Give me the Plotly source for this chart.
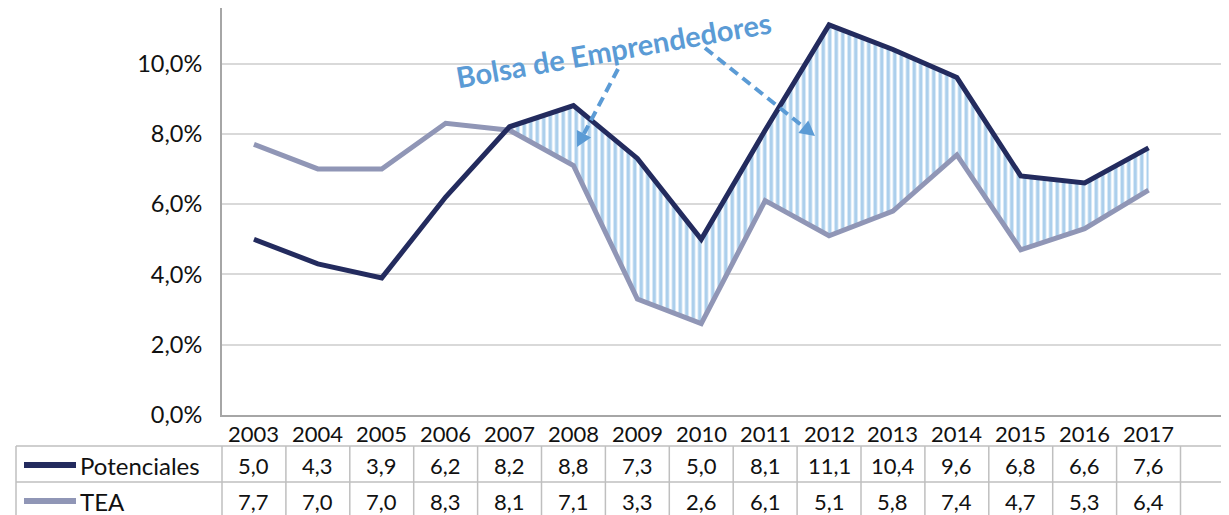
import math
import plotly.graph_objects as go

years = ["2003", "2004", "2005", "2006", "2007", "2008", "2009", "2010",
         "2011", "2012", "2013", "2014", "2015", "2016", "2017"]
potenciales = [5.0, 4.3, 3.9, 6.2, 8.2, 8.8, 7.3, 5.0, 8.1, 11.1, 10.4, 9.6, 6.8, 6.6, 7.6]
tea = [7.7, 7.0, 7.0, 8.3, 8.1, 7.1, 3.3, 2.6, 6.1, 5.1, 5.8, 7.4, 4.7, 5.3, 6.4]
series_names = ["Potenciales", "TEA"]
annotation_text = "Bolsa de Emprendedores"
y_ticks = [0, 2, 4, 6, 8, 10]
gap_start = 4  # fill from 2007 on

# page body has an 8px margin: work in screen pixels and shift by OFF
OFF = 8
W, H = 1229 - OFF, 515 - OFF
AX_X, AX_Y = 222, 415          # screen px of y-axis line and x-axis line
ML = AX_X - OFF
PH = AX_Y - OFF
PW = W - ML
MB = H - PH
COLW = 63.9
PX_PER_UNIT = 35.15
XMAX = PW / COLW - 0.5
YMAX = PH / PX_PER_UNIT

C_POT = "#232B5E"
C_TEA = "#9096B6"
C_BLUE = "#5B9BD5"
C_HATCH = "#5A9FDA"
C_GRID = "#D9D9D9"
C_AX = "#A6A6A6"
C_TXT = "#111111"
FONT = "Lato"
FS = 22

xs = list(range(len(years)))


def px(xs_):
    return (xs_ - OFF - ML) / PW


def py(ys_):
    return (PH - (ys_ - OFF)) / PH


def fmt(v):
    return f"{v:.1f}".replace(".", ",")


fig = go.Figure()

# hatched gap between the lines
fig.add_trace(go.Scatter(x=xs[gap_start:], y=tea[gap_start:], mode="lines",
                         line=dict(width=0), showlegend=False, hoverinfo="skip"))
fig.add_trace(go.Scatter(x=xs[gap_start:], y=potenciales[gap_start:], mode="lines",
                         line=dict(width=0), fill="tonexty",
                         fillcolor="rgba(0,0,0,0)",
                         fillpattern=dict(shape="|", fgcolor=C_HATCH, bgcolor="white",
                                          size=6.5, solidity=0.55, fillmode="overlay"),
                         showlegend=False, hoverinfo="skip"))

fig.add_trace(go.Scatter(x=xs, y=tea, mode="lines", name=series_names[1],
                         line=dict(color=C_TEA, width=5), showlegend=False))
fig.add_trace(go.Scatter(x=xs, y=potenciales, mode="lines", name=series_names[0],
                         line=dict(color=C_POT, width=5), showlegend=False))

shapes = []
annotations = []

# year labels
for i, yr in enumerate(years):
    annotations.append(dict(x=i, y=py(433), xref="x", yref="paper", text=yr,
                            showarrow=False, xanchor="center", yanchor="middle",
                            font=dict(family=FONT, size=FS, color=C_TXT)))

# data table
line_style = dict(color="#BFBFBF", width=1.5)
y_top, y_mid, y_bot = 446, 482, 520
x_left = 16
for yy in (y_top, y_mid, y_bot):
    shapes.append(dict(type="line", xref="paper", yref="paper",
                       x0=px(x_left), x1=px(1240), y0=py(yy), y1=py(yy), line=line_style))
for k in range(len(years) + 2):
    xx = AX_X + k * COLW
    shapes.append(dict(type="line", xref="paper", yref="paper",
                       x0=px(xx), x1=px(xx), y0=py(y_top), y1=py(y_bot), line=line_style))
shapes.append(dict(type="line", xref="paper", yref="paper",
                   x0=px(x_left), x1=px(x_left), y0=py(y_top), y1=py(y_bot), line=line_style))

rows = [(series_names[0], potenciales, C_POT, 465), (series_names[1], tea, C_TEA, 501)]
for name, vals, col, yc in rows:
    shapes.append(dict(type="line", xref="paper", yref="paper",
                       x0=px(24), x1=px(76), y0=py(yc), y1=py(yc),
                       line=dict(color=col, width=6)))
    annotations.append(dict(x=px(78), y=py(yc), xref="paper", yref="paper",
                            text=name, showarrow=False, xanchor="left", yanchor="middle",
                            font=dict(family=FONT, size=24, color=C_TXT)))
    for i, v in enumerate(vals):
        annotations.append(dict(x=i, y=py(yc), xref="x", yref="paper",
                                text=fmt(v), showarrow=False,
                                xanchor="center", yanchor="middle",
                                font=dict(family=FONT, size=FS, color=C_TXT)))

# callout text
annotations.append(dict(x=px(613), y=py(50), xref="paper", yref="paper",
                        text=f"<b>{annotation_text}</b>", showarrow=False, textangle=-10,
                        xanchor="center", yanchor="middle",
                        font=dict(family=FONT, size=29, color=C_BLUE)))

# dashed arrows
for (x0, y0, x1, y1) in [(618, 69, 577, 147), (705, 48, 815, 136)]:
    ang = math.atan2(y1 - y0, x1 - x0)
    hl, hw = 15, 8
    bx, by = x1 - hl * math.cos(ang), y1 - hl * math.sin(ang)
    shapes.append(dict(type="line", xref="paper", yref="paper",
                       x0=px(x0), y0=py(y0), x1=px(bx), y1=py(by),
                       line=dict(color=C_BLUE, width=4, dash="10px,6px")))
    lx, ly = bx + hw * math.sin(ang), by - hw * math.cos(ang)
    rx, ry = bx - hw * math.sin(ang), by + hw * math.cos(ang)
    path = f"M {px(x1)} {py(y1)} L {px(lx)} {py(ly)} L {px(rx)} {py(ry)} Z"
    shapes.append(dict(type="path", xref="paper", yref="paper", path=path,
                       fillcolor=C_BLUE, line=dict(width=0)))

fig.update_layout(
    width=W, height=H,
    margin=dict(l=ML, r=0, t=0, b=MB, pad=0),
    paper_bgcolor="white", plot_bgcolor="white",
    separators=",.",
    showlegend=False,
    shapes=shapes, annotations=annotations,
    font=dict(family=FONT, size=FS, color=C_TXT),
    xaxis=dict(range=[-0.5, XMAX], showgrid=False, showticklabels=False,
               zeroline=False, showline=True, linecolor=C_AX, linewidth=2, ticks=""),
    yaxis=dict(range=[0, YMAX], tickvals=y_ticks,
               ticktext=[fmt(v) + "%" for v in y_ticks],
               showgrid=True, gridcolor=C_GRID, gridwidth=1.5,
               zeroline=False, showline=True, linecolor=C_AX, linewidth=2,
               ticks="", ticklabelstandoff=13,
               tickfont=dict(family=FONT, size=23.5, color=C_TXT)),
)

fig.write_html("out.html")
